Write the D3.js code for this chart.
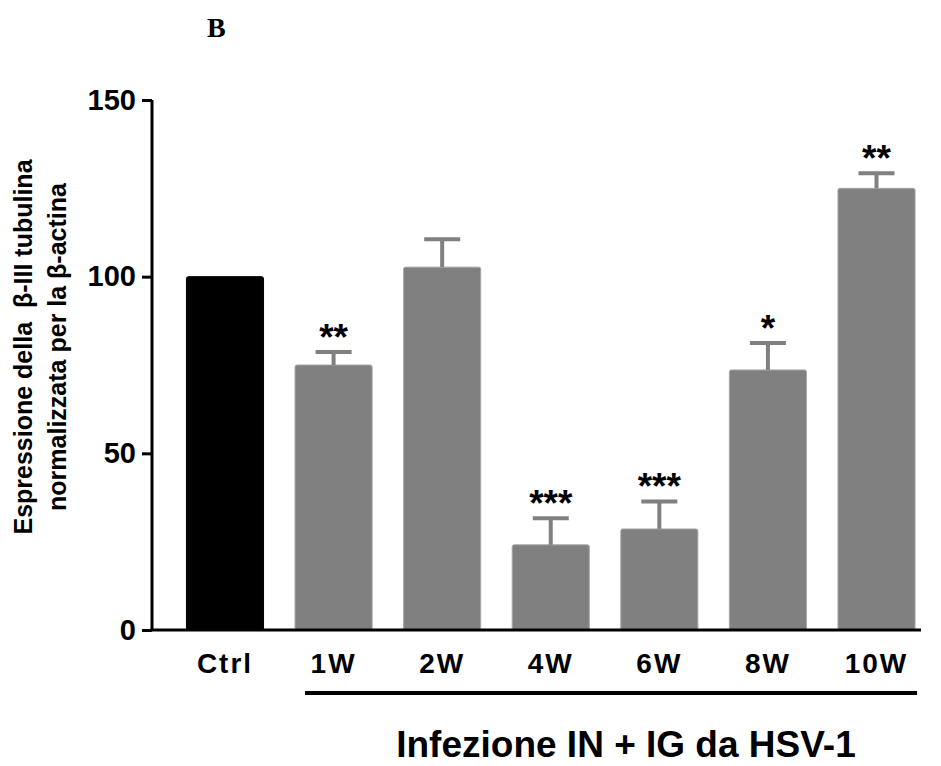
<!DOCTYPE html>
<html>
<head>
<meta charset="utf-8">
<script src="https://cdn.jsdelivr.net/npm/d3@7"></script>
<style>
  body { margin: 0; background: #fff; }
  svg { display: block; }
</style>
</head>
<body>
<div id="chart"></div>
<script>
const width = 941;
const height = 766;

// data
const categories = ["Ctrl", "1W", "2W", "4W", "6W", "8W", "10W"];
const values = [100, 75.0, 102.7, 24.1, 28.6, 73.6, 125.0];
const errors = [0, 3.7, 7.9, 7.5, 7.8, 7.6, 4.3];
const stars = ["", "**", "", "***", "***", "*", "**"];
const yTicks = [0, 50, 100, 150];

const svg = d3.select("#chart")
    .append("svg")
    .attr("width", width)
    .attr("height", height);

const x = d3.scaleBand()
    .domain(categories)
    .range([170.7, 930.8])
    .paddingInner(0.29)
    .paddingOuter(0.145);

const y = d3.scaleLinear()
    .domain([0, 150])
    .range([630, 100]);

const barColor = (d, i) => i === 0 ? "#000" : "#808080";

// bars
svg.selectAll(".bar")
    .data(categories)
    .enter()
    .append("rect")
    .attr("class", "bar")
    .attr("x", d => x(d))
    .attr("y", (d, i) => y(values[i]))
    .attr("width", x.bandwidth())
    .attr("height", (d, i) => y(0) - y(values[i]))
    .attr("rx", 2)
    .attr("fill", barColor)
    .attr("stroke", (d, i) => i === 0 ? "#000" : "#a6a6a6")
    .attr("stroke-width", 1);

// error bars (upper only)
const err = svg.selectAll(".err")
    .data(categories.filter((d, i) => errors[i] > 0))
    .enter()
    .append("g")
    .attr("class", "err");

err.append("line")
    .attr("x1", d => x(d) + x.bandwidth() / 2)
    .attr("x2", d => x(d) + x.bandwidth() / 2)
    .attr("y1", d => y(values[categories.indexOf(d)]))
    .attr("y2", d => { const i = categories.indexOf(d); return y(values[i] + errors[i]); })
    .attr("stroke", "#808080")
    .attr("stroke-width", 4);

err.append("line")
    .attr("x1", d => x(d) + x.bandwidth() / 2 - 18)
    .attr("x2", d => x(d) + x.bandwidth() / 2 + 18)
    .attr("y1", d => { const i = categories.indexOf(d); return y(values[i] + errors[i]); })
    .attr("y2", d => { const i = categories.indexOf(d); return y(values[i] + errors[i]); })
    .attr("stroke", "#808080")
    .attr("stroke-width", 4);

// significance stars
svg.selectAll(".star")
    .data(categories)
    .enter()
    .append("text")
    .attr("class", "star")
    .attr("x", d => x(d) + x.bandwidth() / 2)
    .attr("y", (d, i) => y(values[i] + errors[i]) - 2)
    .attr("text-anchor", "middle")
    .style("font-family", "Liberation Sans, Arial, sans-serif")
    .style("font-weight", "bold")
    .style("font-size", "37px")
    .text((d, i) => stars[i]);

// y axis
const yAxis = svg.append("g")
    .attr("transform", "translate(152,0)")
    .call(d3.axisLeft(y).tickValues(yTicks).tickSize(10).tickPadding(6));

yAxis.selectAll("path, line")
    .attr("stroke", "#000")
    .style("stroke-width", "3px");
yAxis.select(".domain").attr("d", `M0,${y(150)}V${y(0)}`);

yAxis.selectAll(".tick text")
    .style("fill", "#000")
    .style("font-family", "Liberation Sans, Arial, sans-serif")
    .style("font-weight", "bold")
    .style("font-size", "29px");

// x axis line
svg.append("line")
    .attr("x1", 150.5)
    .attr("x2", 921)
    .attr("y1", y(0))
    .attr("y2", y(0))
    .attr("stroke", "#000")
    .attr("stroke-width", 3);

// category labels
svg.selectAll(".xlab")
    .data(categories)
    .enter()
    .append("text")
    .attr("class", "xlab")
    .attr("x", d => x(d) + x.bandwidth() / 2)
    .attr("y", 673)
    .attr("text-anchor", "middle")
    .style("font-family", "Liberation Sans, Arial, sans-serif")
    .style("font-weight", "bold")
    .style("font-size", "28px")
    .style("letter-spacing", "2px")
    .text(d => d);

// group line under infected weeks
svg.append("line")
    .attr("x1", x("1W") + 10)
    .attr("x2", x("10W") + x.bandwidth() + 2)
    .attr("y1", 693)
    .attr("y2", 693)
    .attr("stroke", "#000")
    .attr("stroke-width", 4);

svg.append("text")
    .attr("x", 626)
    .attr("y", 757)
    .attr("text-anchor", "middle")
    .style("font-family", "Liberation Sans, Arial, sans-serif")
    .style("font-weight", "bold")
    .style("font-size", "37px")
    .text("Infezione IN + IG da HSV-1");

// y axis title (two lines)
const yTitle = svg.append("text")
    .attr("transform", "translate(0,347) rotate(-90)")
    .attr("text-anchor", "middle")
    .style("font-family", "Liberation Sans, Arial, sans-serif")
    .style("font-weight", "bold")
    .style("font-size", "25px");

yTitle.append("tspan")
    .attr("x", 0)
    .attr("y", 32)
    .attr("xml:space", "preserve")
    .text("Espressione della  \u03b2-III tubulina");
yTitle.append("tspan")
    .attr("x", 0)
    .attr("y", 66)
    .text("normalizzata per la \u03b2-actina");

// panel letter
svg.append("text")
    .attr("x", 207)
    .attr("y", 37)
    .style("font-family", "Liberation Serif, Times New Roman, serif")
    .style("font-weight", "bold")
    .style("font-size", "28px")
    .text("B");
</script>
</body>
</html>
